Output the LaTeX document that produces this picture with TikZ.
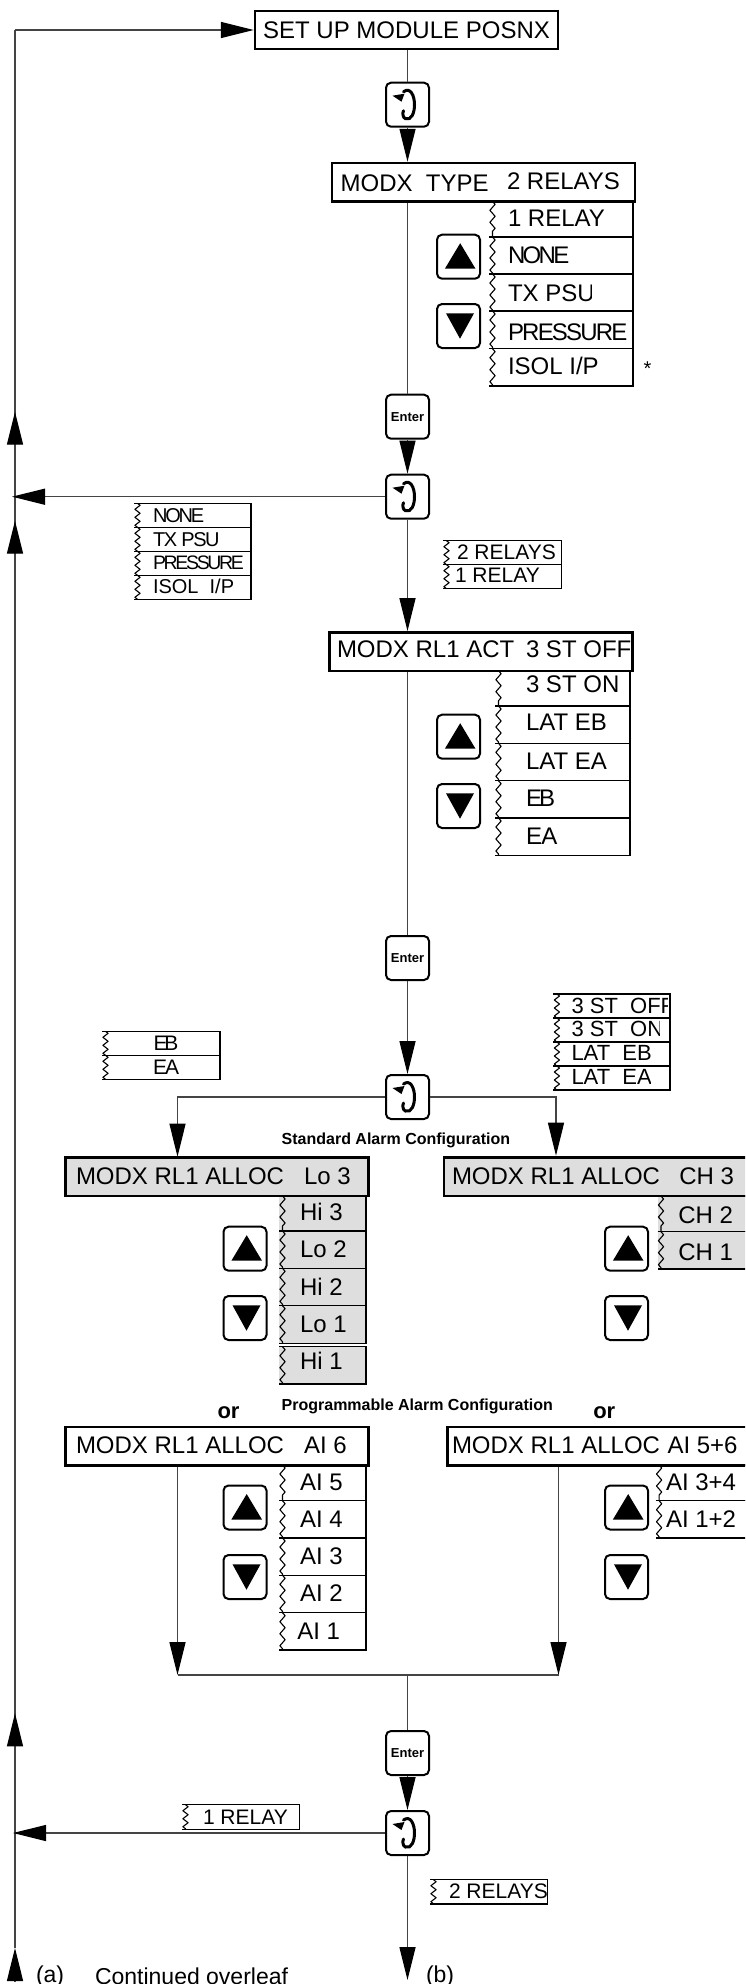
\documentclass[tikz,border=0pt]{standalone}
\usepackage{fontspec}
\setmainfont{Liberation Sans}
\usetikzlibrary{arrows.meta,decorations.pathmorphing}
\definecolor{panel}{HTML}{DEDEDE}
\definecolor{wire}{HTML}{444444}
\newcommand\fz[1]{\fontsize{#1}{#1}\selectfont}
\newcommand\trk[1]{\addfontfeature{LetterSpace=#1}}
\tikzset{
  txt/.style={inner sep=0pt,outer sep=0pt,anchor=base west},
  ln/.style={line width=1.3pt,draw=wire},
  ar/.style={ln,-{Triangle[length=33pt,width=16pt,fill=black,color=black]}},
  hbox/.style={draw=black,line width=2.4pt,inner sep=0pt,minimum width=303pt,minimum height=38.4pt},
  btn/.style={draw=black,fill=white,line width=2pt,rounded corners=5pt,inner sep=0pt,minimum width=43pt,minimum height=44pt},
  rowline/.style={line width=1.1pt,draw=black},
}
% text: [tracking]{name}{x}{centre y}{size}{text}
\newcommand\txl[5][]{\node[txt] (#2) at ({#3},{#4+.358*#5}) {};}
\renewcommand\txl[6][]{\node[txt] (#2) at ({#3},{#4+.358*#5}) {\fz{#5}#1#6};}
% same, cut off at x = #7 (the display window)
\newcommand\txc[7][]{\begin{scope}\clip ({#3-3},{#4-#5}) rectangle ({#7},{#4+#5});
  \node[txt] (#2) at ({#3},{#4+.358*#5}) {\fz{#5}#1#6};\end{scope}}
\newcommand\rowbox[6]{%
  \fill[#5] (#1,#3) rectangle (#2,#4);
  \draw[rowline] (#1,#3) -- (#2,#3) -- (#2,#4) -- (#1,#4);
  \draw[rowline,line join=round,decorate,decoration={zigzag,segment length=#6pt,amplitude=2.6pt}] ({#1+3.5},#3) -- ({#1+3.5},#4);}
\newcommand\stack[5]{\foreach \ya/\yb in {#5}{\rowbox{#1}{#2}{\ya}{\yb}{#3}{#4}}}
\newcommand\upbtn[3]{\node[btn] (#1) at (#2,#3) {};
  \fill ([shift={(1.7,-13.5)}]#1.center) -- ([shift={(17,12)}]#1.center) -- ([shift={(-13.6,12)}]#1.center) -- cycle;}
\newcommand\dnbtn[3]{\node[btn] (#1) at (#2,#3) {};
  \fill ([shift={(1.5,12.7)}]#1.center) -- ([shift={(15.5,-12.7)}]#1.center) -- ([shift={(-12.5,-12.7)}]#1.center) -- cycle;}
\newcommand\rotbtn[3]{\node[btn] (#1) at (#2,#3) {};
  \draw[line width=3pt,line cap=round] ([shift={(-4,-13)}]#1.center) .. controls ([shift={(3,-18)}]#1.center) and ([shift={(7,-9)}]#1.center) .. ([shift={(7,0)}]#1.center) .. controls ([shift={(7,8)}]#1.center) and ([shift={(4,16)}]#1.center) .. ([shift={(-2,14)}]#1.center) .. controls ([shift={(-5,13)}]#1.center) and ([shift={(-5,8)}]#1.center) .. ([shift={(-4,6)}]#1.center);
  \fill ([shift={(-15,-9)}]#1.center) -- ([shift={(-3,-11)}]#1.center) -- ([shift={(-6,-3)}]#1.center) -- cycle;}
\newcommand\entbtn[3]{\node[btn,font=\fz{13}\bfseries] (#1) at (#2,#3) {Enter};}
\begin{document}
\begin{tikzpicture}[x=1pt,y=-1pt]
\useasboundingbox (0,0) rectangle (745,1984);
\clip (0,0) rectangle (745,1984);
\fill[white] (0,0) rectangle (745,1984);

% ---------- lists ----------
\stack{489}{633}{white}{12}{201.3/237,237/274,274/311,311/348.7,348.7/386}
\txc{r1}{508}{218}{24}{1 RELAY}{604}
\txl[\trk{-11}]{r2}{508}{255}{24}{NONE}
\txc{r3}{508}{292.7}{24}{TX PSU}{591.5}
\txl[\trk{-7.5}]{r4}{508}{331.7}{24}{PRESSURE}
\txc{r5}{508}{366}{24}{ISOL I/P}{598.5}
\node[txt] (star) at (643.5,375) {\fz{20}*};

\stack{134}{251}{white}{8}{503.3/527.3,527.3/551.3,551.3/575.3,575.3/599.3}
\txl[\trk{-11}]{n1}{153}{515}{20}{NONE}
\txl[\trk{-7}]{n2}{153}{539}{20}{TX PSU}
\txl[\trk{-12}]{n3}{153}{562.7}{19.5}{PRESSURE}
\txc{n4}{153}{586.7}{20}{ISOL\ \ I/P}{239}

\stack{443}{561.5}{white}{8}{540.7/564.7,564.7/588.7}
\txl{s1}{457}{551.7}{21}{2 RELAYS}
\txl{s2}{455}{575}{21}{1 RELAY}

\stack{495}{630}{white}{12}{670.7/706,706/743.3,743.3/780.7,780.7/818,818/855.3}
\txl{a1}{526}{684.3}{24}{3 ST ON}
\txl{a2}{526}{721.7}{24}{LAT EB}
\txl{a3}{526}{761}{24}{LAT EA}
\txl[\trk{-12}]{a4}{526}{798.3}{24}{EB}
\txl[\trk{-3}]{a5}{526}{836}{24}{EA}

\stack{102}{220}{white}{8}{1031.3/1055.3,1055.3/1079.3}
\txl[\trk{-15}]{e1}{153.5}{1043.3}{21}{EB}
\txl[\trk{-9}]{e2}{153}{1067.3}{21}{EA}

\stack{553.4}{670}{white}{8}{994/1018,1018/1042,1042/1066,1066/1090}
\txc{o1}{571.5}{1006}{22}{3 ST\ \ OFF}{667}
\txc{o2}{571.5}{1029}{22}{3 ST\ \ ON}{659.4}
\txc{o3}{571.5}{1053}{22}{LAT\ \ EB}{650}
\txc{o4}{571.5}{1077}{22}{LAT\ \ EA}{650}

\stack{279}{366}{panel}{12}{1196/1231,1231/1268.3,1268.3/1305.7,1305.7/1343.3,1346.7/1384}
\txl{h1}{300}{1212.3}{24}{Hi 3}
\txl{h2}{300}{1249.3}{24}{Lo 2}
\txl{h3}{300}{1286.7}{24}{Hi 2}
\txl{h4}{300}{1324.3}{24}{Lo 1}
\txl{h5}{300}{1361}{24}{Hi 1}

\stack{657.5}{760}{panel}{12}{1196/1231.7,1231.7/1269}
\txl{c1}{678.4}{1215}{24}{CH 2}
\txl{c2}{678.4}{1251.7}{24}{CH 1}

\stack{279}{366}{white}{12}{1465/1500.7,1500.7/1538,1538/1575.3,1575.3/1612.7,1612.7/1650}
\txl{i1}{300}{1481.7}{24}{AI 5}
\txl{i2}{300}{1519}{24}{AI 4}
\txl{i3}{300}{1556.3}{24}{AI 3}
\txl{i4}{300}{1593}{24}{AI 2}
\txl{i5}{297.4}{1631.3}{24}{AI 1}

\stack{655.6}{760}{white}{12}{1465/1500.7,1500.7/1538}
\txl{j1}{666}{1481.7}{24}{AI 3+4}
\txl{j2}{666}{1519}{24}{AI 1+2}

\stack{182}{299.8}{white}{8}{1804.7/1829.3}
\txl{l1}{203}{1816.7}{21}{1 RELAY}
\stack{430}{547.7}{white}{8}{1879.7/1904}
\txc{l2}{449}{1891.3}{21}{2 RELAYS}{547.7}

% ---------- header boxes ----------
\node[hbox,fill=white] (box1) at (406.5,30) {\fz{24}SET UP MODULE POSNX};
\node[hbox,fill=white] (box2) at (483.75,182.15) {};
\txl{b2a}{340.6}{182.7}{24}{MODX\ \ TYPE}
\txc{b2b}{507}{180.7}{24}{2 RELAYS}{620}
\node[hbox,fill=white] (box3) at (480.85,651.5) {};
\txl{b3a}{337}{649.3}{24}{MODX RL1 ACT}
\txc{b3b}{526}{649.3}{24}{3 ST OFF}{630.8}
\node[hbox,fill=panel] (boxL1) at (217.1,1176.65) {};
\txl{l1a}{76}{1175.7}{24}{MODX RL1 ALLOC}
\txl{l1b}{304}{1175.7}{24}{Lo 3}
\node[hbox,fill=panel,minimum width=320pt] (boxR1) at (604,1176.65) {};
\txl{r1a}{452}{1175.7}{24}{MODX RL1 ALLOC}
\txl{r1b}{679.3}{1175.7}{24}{CH 3}
\node[hbox,fill=white] (boxL2) at (217.1,1446.15) {};
\txl{l2a}{76}{1445}{24}{MODX RL1 ALLOC}
\txl{l2b}{304}{1445}{24}{AI 6}
\node[hbox,fill=white,minimum width=320pt] (boxR2) at (607.5,1446.15) {};
\txl{r2a}{452}{1445}{24}{MODX RL1 ALLOC}
\txl{r2b}{667.5}{1445}{24}{AI 5+6}

% ---------- captions ----------
\txl{t1}{281.7}{1138.3}{16}{\bfseries Standard Alarm Configuration}
\txl{t2}{281.7}{1405}{16}{\bfseries Programmable Alarm Configuration}
\node[txt,font=\fz{22}\bfseries] (or1) at (217.5,1418) {or};
\node[txt,font=\fz{22}\bfseries] (or2) at (593.3,1418) {or};
\node[txt,font=\fz{23}] (ca) at (36,1982) {(a)};
\node[txt,font=\fz{23}] (cb) at (426,1982) {(b)};
\node[txt,font=\fz{23}] (cc) at (95,1984) {Continued overleaf};

% ---------- buttons ----------
\rotbtn{b1}{407.5}{104.7}
\upbtn{u1}{458.5}{256.7}
\dnbtn{d1}{458.5}{326}
\entbtn{e1b}{407.5}{416.7}
\rotbtn{b2}{407.5}{496.7}
\upbtn{u2}{458.5}{736.7}
\dnbtn{d2}{458.5}{806}
\entbtn{e2b}{407.5}{958}
\rotbtn{b3}{407.5}{1097}
\upbtn{u3}{245}{1248.7}
\dnbtn{d3}{245}{1318}
\upbtn{u4}{626.5}{1248.7}
\dnbtn{d4}{626.5}{1318}
\upbtn{u5}{245}{1507.5}
\dnbtn{d5}{245}{1577}
\upbtn{u6}{626.5}{1507.5}
\dnbtn{d6}{626.5}{1577}
\entbtn{e3b}{407.5}{1753}
\rotbtn{b4}{407.5}{1833}

% ---------- free ends ----------
\coordinate (top) at (15,30);
\coordinate (bot) at (15,1948);
\coordinate (v1t) at (15,411.7);
\coordinate (v1b) at (15,445);
\coordinate (v2t) at (15,520.7);
\coordinate (v2b) at (15,554);
\coordinate (v3t) at (15,1713.3);
\coordinate (v3b) at (15,1746.7);
\coordinate (v4b) at (15,1981);
\coordinate (left2) at (12,496.7);
\coordinate (left4) at (13,1833);
\coordinate (la) at (177.5,1156.7);
\coordinate (ra) at (556,1155.7);
\coordinate (mL) at (177.5,1675);
\coordinate (mR) at (558.5,1675);
\coordinate (out) at (407.5,1980);

% ---------- connectors ----------
\draw[ln] (bot) -- (top);
\draw[ar] (top) -- (box1.west);
\draw[ar] (v1b) -- (v1t);
\draw[ar] (v2b) -- (v2t);
\draw[ar] (v3b) -- (v3t);
\draw[ar] (v4b) -- (bot);
\draw[ln] (box1.south -| b1) -- (b1.north);
\draw[ar] (b1.south) -- (b1 |- box2.north);
\draw[ln] (b1 |- box2.south) -- (e1b.north);
\draw[ar] (e1b.south) -- (b2.north);
\draw[ar] (b2.west) -- (left2);
\draw[ar] (b2.south) -- (b2 |- box3.north);
\draw[ln] (b2 |- box3.south) -- (e2b.north);
\draw[ar] (e2b.south) -- (b3.north);
\draw[ar] (b3.west) -| (la);
\draw[ar] (b3.east) -| (ra);
\draw[ar] (boxL2.south -| mL) -- (mL);
\draw[ar] (boxR2.south -| mR) -- (mR);
\draw[ln,line width=1.8pt] (mL) -- (mR);
\draw[ln] (e3b |- mL) -- (e3b.north);
\draw[ar] (e3b.south) -- (b4.north);
\draw[ar] (b4.west) -- (left4);
\draw[ar] (b4.south) -- (out);
\end{tikzpicture}
\end{document}
